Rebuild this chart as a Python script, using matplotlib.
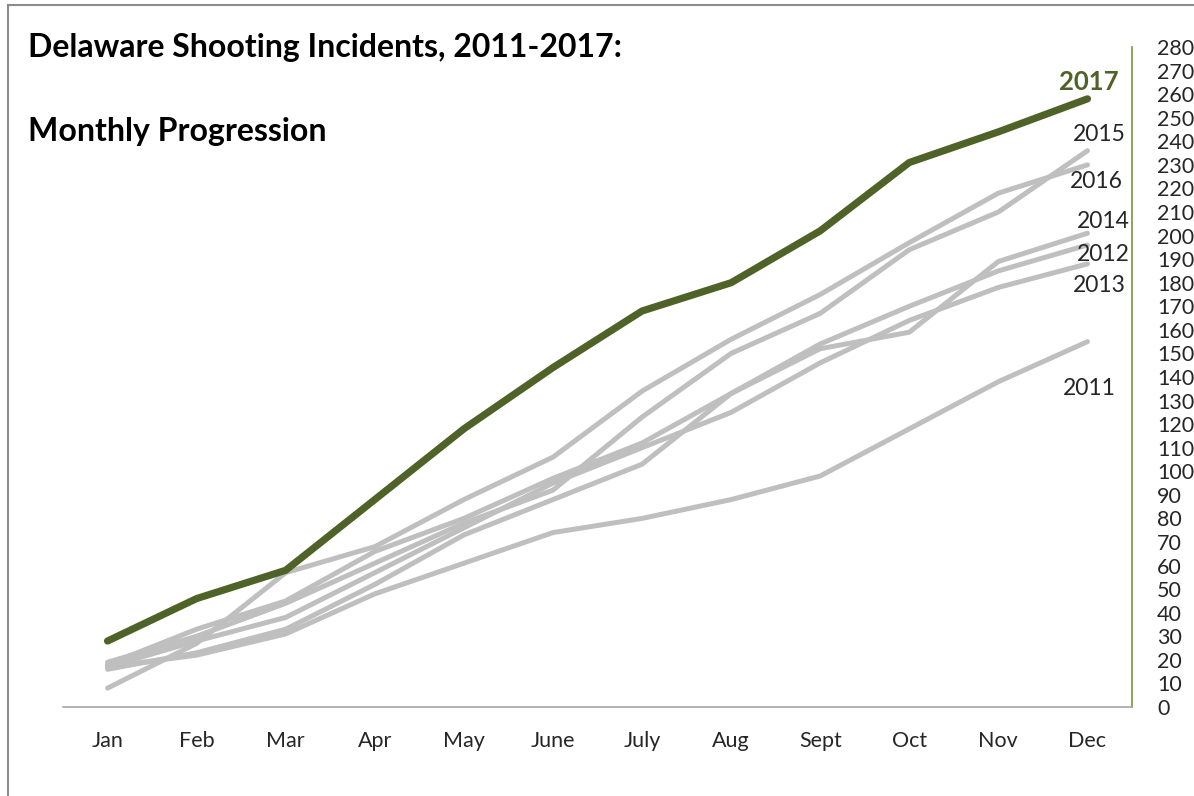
import matplotlib.pyplot as plt
import matplotlib.lines as mlines

plt.rcParams['font.family'] = ['Lato', 'DejaVu Sans']

months = ["Jan", "Feb", "Mar", "Apr", "May", "June", "July", "Aug", "Sept", "Oct", "Nov", "Dec"]

# cumulative shooting incidents by month
y2011 = [17, 22, 31, 48, 61, 74, 80, 88, 98, 118, 138, 155]
y2012 = [18, 33, 45, 66, 80, 97, 112, 133, 154, 170, 185, 196]
y2013 = [17, 28, 38, 57, 76, 95, 110, 125, 146, 164, 178, 188]
y2014 = [16, 23, 33, 52, 73, 88, 103, 133, 152, 159, 189, 201]
y2015 = [19, 30, 44, 61, 78, 92, 123, 150, 167, 194, 210, 236]
y2016 = [8, 27, 57, 68, 88, 106, 134, 156, 175, 197, 218, 230]
y2017 = [28, 46, 58, 88, 118, 144, 168, 180, 202, 231, 244, 258]

gray_series = {"2011": y2011, "2012": y2012, "2013": y2013,
               "2014": y2014, "2015": y2015, "2016": y2016}

# label positions beside Dec (x offset, y value) - placed by eye
label_pos = {"2015": (0.135, 243), "2016": (0.1, 223), "2014": (0.18, 206),
             "2012": (0.18, 192), "2013": (0.135, 179), "2011": (0.02, 135)}

fig = plt.figure(figsize=(11.94, 7.96), dpi=100)
ax = fig.add_axes([63 / 1194, 89 / 796, (1132 - 63) / 1194, 660 / 796])

x = list(range(len(months)))
gray = "#BFBFBF"
green = "#4F6228"

for name, vals in gray_series.items():
    ax.plot(x, vals, color=gray, lw=3.6, solid_capstyle="round", solid_joinstyle="round", zorder=2)
ax.plot(x, y2017, color=green, lw=5.2, solid_capstyle="round", solid_joinstyle="round", zorder=3)

for name, (dx, yv) in label_pos.items():
    ax.text(11 + dx, yv, name, fontsize=16.5, color="#262626", ha="center", va="center")
ax.text(11.02, 265, "2017", fontsize=18.5, color=green, fontweight="bold", ha="center", va="center")

ax.set_xlim(-0.5, 11.5)
ax.set_ylim(0, 280)
ax.set_xticks(x)
ax.set_xticklabels(months, fontsize=15.5, color="#262626")
ax.tick_params(axis="x", length=0, pad=17)
ax.yaxis.tick_right()
ax.set_yticks(range(0, 281, 10))
ax.tick_params(axis="y", length=0, pad=18, labelsize=15.5, labelcolor="#262626")
for lab in ax.get_yticklabels():
    lab.set_horizontalalignment("left")

for side in ["top", "left"]:
    ax.spines[side].set_visible(False)
ax.spines["bottom"].set_color("#A6A6A6")
ax.spines["bottom"].set_linewidth(1.2)
ax.spines["right"].set_color("#77933C")
ax.spines["right"].set_linewidth(1.2)

fig.text(28 / 1194, 1 - 48 / 796, "Delaware Shooting Incidents, 2011-2017:", fontsize=23,
         fontweight="bold", ha="left", va="center", color="black")
fig.text(28 / 1194, 1 - 131 / 796, "Monthly Progression", fontsize=23,
         fontweight="bold", ha="left", va="center", color="black")

# outer chart frame (only left and top edges are visible in the crop)
fig.add_artist(mlines.Line2D([8 / 1194, 8 / 1194], [0, 1 - 5 / 796], color="#8C8C8C", lw=1.5))
fig.add_artist(mlines.Line2D([8 / 1194, 1], [1 - 5 / 796, 1 - 5 / 796], color="#8C8C8C", lw=1.5))

fig.savefig("out.png", dpi=100)
